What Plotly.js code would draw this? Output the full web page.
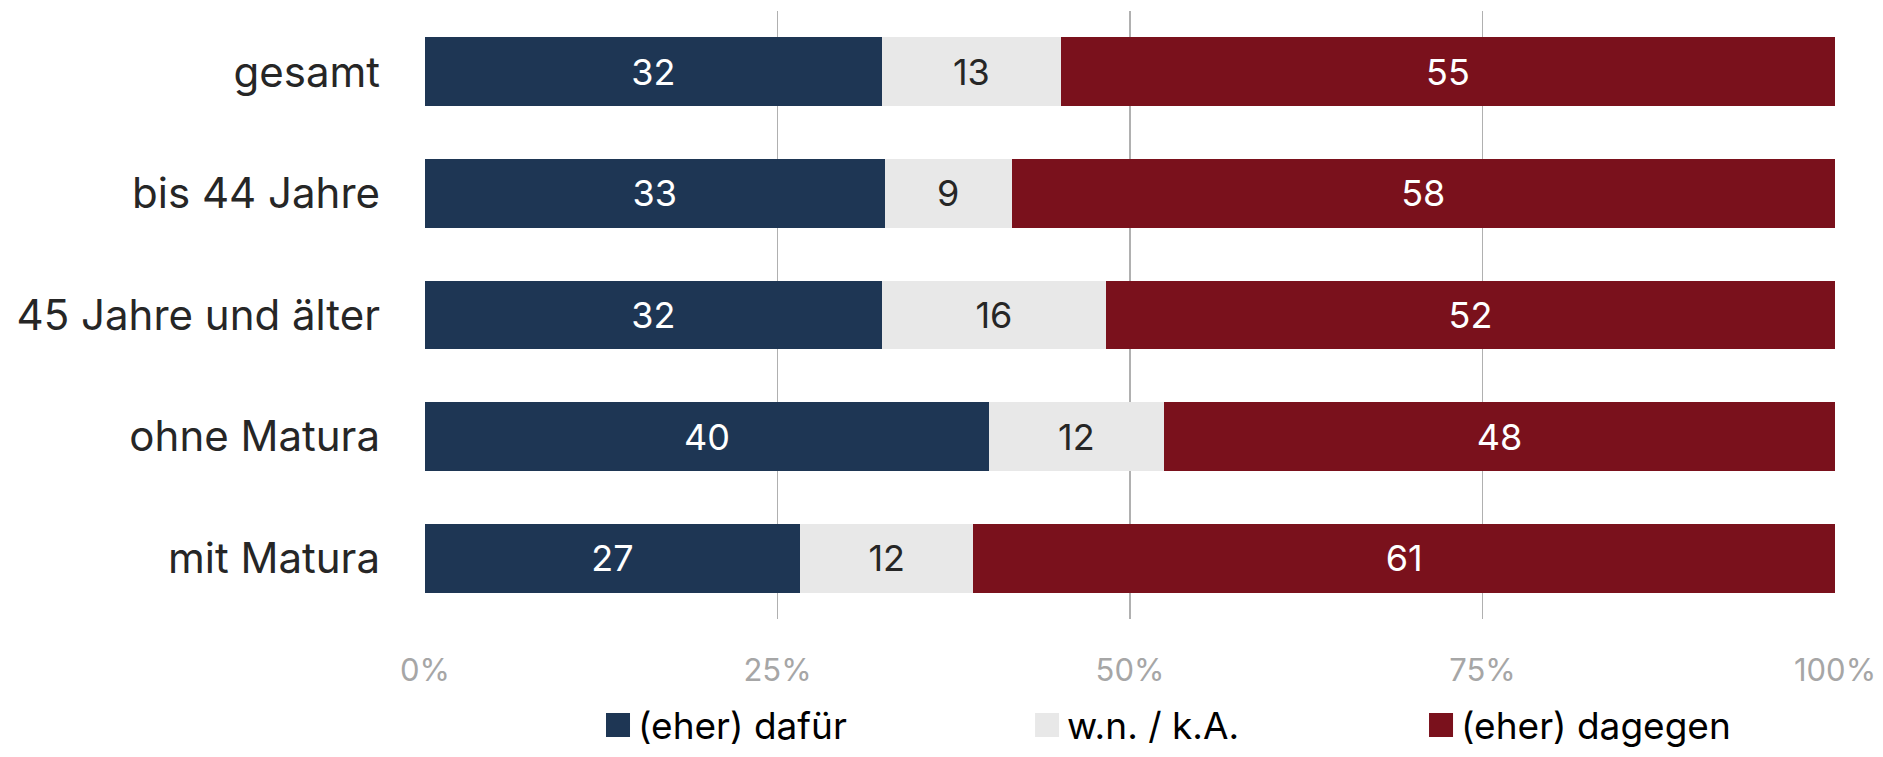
<!DOCTYPE html>
<html>
<head>
<meta charset="utf-8">
<script src="https://cdn.plot.ly/plotly-3.0.1.min.js"></script>
<style>html,body{margin:0;padding:0;background:#fff;}#chart{width:1883px;height:757px;}</style>
</head>
<body>
<div id="chart"></div>
<script>
// Categories (top to bottom)
const categories = ["gesamt", "bis 44 Jahre", "45 Jahre und älter", "ohne Matura", "mit Matura"];

// Shares in percent
const dafuer  = [32.4, 32.6, 32.4, 40.0, 26.6];
const wnka    = [12.7,  9.0, 15.9, 12.4, 12.3];
const dagegen = [54.9, 58.4, 51.7, 47.6, 61.1];

// Printed labels
const lblDafuer  = ["32", "33", "32", "40", "27"];
const lblWnka    = ["13", "9", "16", "12", "12"];
const lblDagegen = ["55", "58", "52", "48", "61"];

const seriesNames = ["(eher) dafür", "w.n. / k.A.", "(eher) dagegen"];
const tickVals = [0, 25, 50, 75, 100];
const tickText = ["0%", "25%", "50%", "75%", "100%"];

const FONT = "Inter, 'Open Sans', 'Liberation Sans', sans-serif";
const colors = ["#1e3654", "#e8e8e8", "#7a111c"];
const textColors = ["#ffffff", "#262626", "#ffffff"];
const values = [dafuer, wnka, dagegen];
const labels = [lblDafuer, lblWnka, lblDagegen];
const legendIds = ["legend", "legend2", "legend3"];

const traces = values.map((v, i) => ({
  type: "bar",
  orientation: "h",
  name: seriesNames[i],
  y: categories,
  x: v,
  text: labels[i],
  texttemplate: "%{text}",
  textposition: "inside",
  insidetextanchor: "middle",
  textangle: 0,
  constraintext: "none",
  insidetextfont: {family: FONT, size: 36, color: textColors[i]},
  marker: {color: colors[i], line: {width: 0}},
  legend: legendIds[i],
  hoverinfo: "skip"
}));

const legendBase = {
  orientation: "h",
  yanchor: "bottom",
  y: -0.226,
  xanchor: "left",
  font: {family: FONT, size: 37, color: "#000000"},
  bgcolor: "rgba(0,0,0,0)",
  borderwidth: 0
};

const layout = {
  width: 1883,
  height: 757,
  margin: {l: 425, r: 48, t: 11, b: 138, pad: 0, autoexpand: false},
  paper_bgcolor: "#ffffff",
  plot_bgcolor: "#ffffff",
  barmode: "stack",
  bargap: 0.433,
  showlegend: true,
  xaxis: {
    range: [0, 100],
    tickvals: tickVals,
    ticktext: tickText,
    showgrid: true,
    gridcolor: "#b0b0b0",
    gridwidth: 1.7,
    zeroline: false,
    showline: false,
    ticks: "",
    ticklabelstandoff: 30,
    tickfont: {family: FONT, size: 31, color: "#a6a6a6"},
    fixedrange: true
  },
  yaxis: {
    autorange: "reversed",
    showgrid: false,
    zeroline: false,
    showline: false,
    ticks: "",
    ticklabelstandoff: 44,
    tickfont: {family: FONT, size: 42, color: "#262626"},
    fixedrange: true
  },
  legend: Object.assign({}, legendBase, {x: 0.1227}),
  legend2: Object.assign({}, legendBase, {x: 0.427}),
  legend3: Object.assign({}, legendBase, {x: 0.7064})
};

Plotly.newPlot("chart", traces, layout, {displayModeBar: false, staticPlot: true}).then(() => {
  // larger legend keys, as in the reference
  document.querySelectorAll(".legendpoints path").forEach(p => {
    p.setAttribute("d", "M12,12H-12V-12H12Z");
    p.style.strokeWidth = "0";
  });
});
</script>
</body>
</html>
